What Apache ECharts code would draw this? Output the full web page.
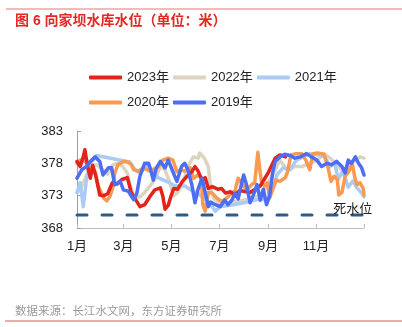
<!DOCTYPE html>
<html>
<head>
<meta charset="utf-8">
<script src="https://cdn.jsdelivr.net/npm/echarts@6/dist/echarts.min.js"></script>
<style>
  html, body { margin: 0; padding: 0; background: #fff; }
  #chart { width: 402px; height: 327px; }
</style>
</head>
<body>
<div id="chart"></div>
<script>
// Xiangjiaba reservoir water level (m), by day of year
const seriesNames = ['2023年', '2022年', '2021年', '2020年', '2019年'];

const days2023 = [0,4,8,10,14,17,20,24,29,34,39,45,51,57,64,69,74,80,86,93,99,106,109,112,116,120,123,128,134,140,146,150,154,159,163,167,172,179,184,189,195,201,207,220,233,243,252,258,265];
const vals2023 = [378.3,377.5,379,380.1,377.2,375.7,377.7,376,373.1,373.0,373.3,375,374.8,375.5,375.8,373.5,372.5,371.3,371.6,372.9,373.9,374.2,373.0,370.9,371.5,373.1,374.1,374.0,375.2,376,376.7,377.5,376.8,375.4,375.8,374.1,374.4,374.0,374.1,373.4,373.6,373.1,373.8,373.5,374.5,376.5,378.8,379.3,379.0];

const days2022 = [0,4,10,17,25,33,39,46,52,58,64,69,74,80,86,93,99,106,112,118,123,128,135,141,148,154,156,162,167,170,174,182,195,207,220,233,243,252,258,267,277,286,296,306,314,322,329,337,345,354,360,365];
const vals2022 = [373.5,374,375.5,377.5,377.8,377,376.3,377.8,378,377.5,376.5,374,372.8,372.8,373.5,374.5,375.5,377.5,377,375,373,373.5,375,377.5,379,378.8,379.6,378.8,377.5,374,372.5,371.8,372,372.2,372.5,373,375,377,378.5,377,377.5,377.5,378,378.5,379.5,378.8,378,377,377.5,378.5,379,378.8];

const days2021 = [0,4,8,12,17,25,67,74,80,89,103,116,125,137,146,154,163,169,176,182,195,207,216,226,235,242,245,251,254,262,271,279,287,296,306,315,322,328,332,338,345,351,356,362,365];
const vals2021 = [373.5,375,371.3,375.5,378,379.2,378.2,377,376.5,377.5,375.8,375.1,374.5,374.5,373.8,373.3,372.5,371.8,370.6,371.3,371.5,371.8,372,372.3,372.5,372.2,373.1,374.5,376.2,377.3,377,378.5,379,379.5,379.3,379,377.5,378,375.5,376.8,374.3,375.3,374.2,373.4,372.8];

const days2020 = [0,4,8,13,17,23,27,31,34,38,42,46,48,52,59,65,69,72,78,83,86,93,99,103,109,116,122,127,132,137,144,148,154,158,160,163,167,172,178,184,190,197,201,205,210,216,223,226,230,233,235,239,242,245,249,253,258,265,268,272,279,286,291,296,300,306,314,319,323,327,331,333,337,341,346,350,353,356,360,364,365];
const vals2020 = [378,378.5,378.5,378,377,376.7,374.5,373.4,372.6,372.2,372.9,374.5,376.5,377.8,378.3,378.2,377.8,377,376.8,377.2,377.2,376.8,377.2,377.4,378.5,378.8,378.5,376.7,377,376.8,377.3,375.7,376.2,375.8,371.6,370.6,373.5,373.4,372.6,372.1,372.6,373.4,373.8,375.7,374.8,373.9,374.8,375,379.7,376.5,374.9,374.5,375,372.6,374,375.4,375.2,375.8,376.8,379.3,379.5,379.5,378.5,377,379.5,379.6,379.4,377.5,375.2,376,375.5,373.1,373.5,376,376.8,378,376,374.7,375,374.1,373.1];

const days2019 = [0,6,12,17,23,29,33,40,44,48,55,59,65,72,76,80,86,91,93,97,101,106,112,116,122,127,133,137,141,146,150,154,159,163,167,170,176,182,188,192,197,201,205,209,212,216,220,224,229,233,237,241,245,249,252,258,264,271,277,284,292,298,305,311,318,324,330,337,341,345,349,354,358,362,365];
const vals2019 = [375.7,377,377.5,378.3,379.0,378.3,376.2,377.3,377.3,374.7,375.2,373.9,373.7,372.4,373.3,376,378,378,377.3,375.4,377.3,378.3,377.3,378.5,376.7,375.2,377.5,378,377,374.7,371.9,374,375.7,373.5,371.3,372,371.6,371.3,372.3,371.6,372.3,373.4,372.5,374.7,376.2,374.5,371.9,373,374.7,372.3,374,371.6,373,376.7,378.3,379.0,379.4,379.2,378.8,379.0,379.5,379,378.5,377.5,378,377.8,378.3,377.5,376.5,378.5,378,379,378,377.3,376.2];

// dead water level
const deadLevel = 370;
const deadLabel = '死水位';

// axis ticks: first day of odd months, and year end
const monthTickDays = [0, 59, 120, 181, 243, 304, 365];
const monthTickLabels = ['1月', '3月', '5月', '7月', '9月', '11月', ''];
const levelTicks = [368, 373, 378, 383];

const titleText = '图 6 向家坝水库水位（单位：米）';
const sourceText = '数据来源：长江水文网，东方证券研究所';

const colors = {
  '2023年': '#e3241d',
  '2022年': '#ddd4c0',
  '2021年': '#a9cbf6',
  '2020年': '#f89a52',
  '2019年': '#4b6ef4'
};
const zOrder = { '2022年': 2, '2021年': 3, '2020年': 4, '2023年': 5, '2019年': 6 };

const FONT = '"Liberation Sans", "Noto Sans CJK SC", sans-serif';

function zip(d, v) { return d.map((x, i) => [x, v[i]]); }
const seriesData = {
  '2023年': zip(days2023, vals2023),
  '2022年': zip(days2022, vals2022),
  '2021年': zip(days2021, vals2021),
  '2020年': zip(days2020, vals2020),
  '2019年': zip(days2019, vals2019)
};

const lineSeries = seriesNames.map(name => ({
  name,
  type: 'line',
  data: seriesData[name],
  showSymbol: false,
  symbol: 'none',
  z: zOrder[name],
  color: colors[name],
  lineStyle: { width: 3.5, color: colors[name], cap: 'round', join: 'round' },
  emphasis: { disabled: true },
  animation: false
}));

lineSeries.push({
  name: deadLabel,
  type: 'line',
  data: [[0, deadLevel], [365, deadLevel]],
  showSymbol: false,
  symbol: 'none',
  z: 1,
  lineStyle: { width: 3, color: '#2a5d8c', type: [10, 15], cap: 'round' },
  emphasis: { disabled: true },
  animation: false
});

const chart = echarts.init(document.getElementById('chart'), null, { renderer: 'canvas' });

chart.setOption({
  animation: false,
  backgroundColor: '#fff',
  title: {
    text: titleText,
    left: 15,
    top: 14,
    padding: 0,
    textStyle: { color: '#e42824', fontSize: 14, fontWeight: 'bold', fontFamily: FONT }
  },
  legend: {
    data: seriesNames,
    left: 89,
    top: 67,
    width: 262,
    padding: 0,
    itemGap: 4,
    icon: 'roundRect',
    itemWidth: 33,
    itemHeight: 4,
    textStyle: { color: '#222', fontSize: 13, fontFamily: FONT, lineHeight: 21 }
  },
  grid: { left: 77, right: 38, top: 131, bottom: 99, containLabel: false },
  xAxis: {
    type: 'value',
    min: 0,
    max: 365,
    axisLine: { show: true, lineStyle: { color: '#bdbdbd', width: 1 } },
    axisTick: { show: true, inside: true, length: 4, customValues: monthTickDays, lineStyle: { color: '#bdbdbd' } },
    axisLabel: {
      customValues: monthTickDays.slice(0, 6),
      formatter: v => monthTickLabels[monthTickDays.indexOf(v)],
      color: '#222', fontSize: 13, fontFamily: FONT, margin: 12
    },
    splitLine: { show: false }
  },
  yAxis: {
    type: 'value',
    min: 368,
    max: 383,
    axisLine: { show: true, lineStyle: { color: '#9e9e9e', width: 1 } },
    axisTick: { show: true, inside: true, length: 4, customValues: levelTicks, lineStyle: { color: '#9e9e9e' } },
    axisLabel: {
      customValues: levelTicks,
      color: '#222', fontSize: 13, fontFamily: FONT, margin: 14
    },
    splitLine: { show: false }
  },
  tooltip: { show: false },
  series: lineSeries
});

// dead-level caption, header rule, footer rule and source note
const labelPos = chart.convertToPixel({ gridIndex: 0 }, [326, deadLevel]);
chart.setOption({
  graphic: [
    { type: 'line', shape: { x1: 6, y1: 9, x2: 402, y2: 9 }, style: { stroke: '#f0a3a3', lineWidth: 1.5 } },
    { type: 'line', shape: { x1: 5, y1: 321, x2: 402, y2: 321 }, style: { stroke: '#ea8f8f', lineWidth: 1.5 } },
    {
      type: 'text', x: labelPos[0], y: labelPos[1] - 6, z: 10,
      style: { text: deadLabel, fill: '#222', font: '13px ' + FONT, textAlign: 'left', textVerticalAlign: 'middle' }
    },
    {
      type: 'text', x: 15, y: 312,
      style: { text: sourceText, fill: '#9a9a9a', font: '11.5px ' + FONT, textAlign: 'left', textVerticalAlign: 'middle' }
    }
  ]
});
</script>
</body>
</html>
